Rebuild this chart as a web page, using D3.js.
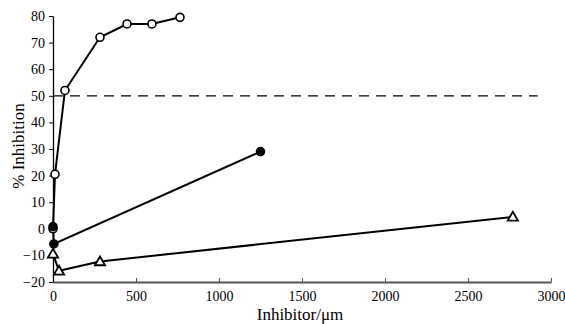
<!DOCTYPE html>
<html>
<head>
<meta charset="utf-8">
<script src="https://cdn.jsdelivr.net/npm/d3@7"></script>
<style>
  body { margin: 0; background: #fff; }
</style>
</head>
<body>
<div id="chart"></div>
<script>
// data
const openX = [0, 12, 72, 283, 446, 596, 765];
const openY = [0, 20.5, 52, 72, 77, 77, 79.5];
const filledX = [0, 5, 1250];
const filledY = [0.8, -5.7, 29];
const triX = [0, 36, 283, 2770];
const triY = [-9.4, -15.8, -12.3, 4.5];
const xTicks = [0, 500, 1000, 1500, 2000, 2500, 3000];
const yTicks = [-20, -10, 0, 10, 20, 30, 40, 50, 60, 70, 80];
const threshold = 50;

const serif = "'Liberation Serif', 'Times New Roman', 'DejaVu Serif', serif";
const width = 565, height = 324;
const margin = { left: 53, right: 14, top: 16, bottom: 42 };

const svg = d3.select("#chart").append("svg")
  .attr("width", width)
  .attr("height", height)
  .style("font-family", serif);

const x = d3.scaleLinear().domain([0, 3000]).range([margin.left, width - margin.right]);
const y = d3.scaleLinear().domain([-20, 80]).range([height - margin.bottom, margin.top]);

// x axis (ticks inward)
const gx = svg.append("g")
  .attr("transform", "translate(0," + y(-20) + ")")
  .call(d3.axisBottom(x).tickValues(xTicks).tickFormat(d3.format("d"))
    .tickSize(-4).tickPadding(9).tickSizeOuter(0));
gx.attr("font-family", serif);
gx.select(".domain").attr("stroke", "#555").attr("stroke-width", 2);
gx.selectAll(".tick line").attr("stroke", "#555");
gx.selectAll("text").attr("font-size", 14).attr("fill", "#000").style("font-family", serif);

// y axis
const gy = svg.append("g")
  .attr("transform", "translate(" + x(0) + ",0)")
  .call(d3.axisLeft(y).tickValues(yTicks).tickSize(4).tickPadding(4).tickSizeOuter(0));
gy.attr("font-family", serif);
gy.select(".domain").attr("stroke", "#000").attr("stroke-width", 1.3);
gy.selectAll("text").attr("font-size", 14).attr("fill", "#000").style("font-family", serif);

// 50% line
svg.append("line")
  .attr("x1", x(0)).attr("x2", x(2920))
  .attr("y1", y(threshold)).attr("y2", y(threshold))
  .attr("stroke", "#000").attr("stroke-width", 1.2)
  .attr("stroke-dasharray", "10,7");

const line = d3.line().x(d => x(d[0])).y(d => y(d[1]));
const series = [
  { xs: openX, ys: openY, type: "open" },
  { xs: filledX, ys: filledY, type: "filled" },
  { xs: triX, ys: triY, type: "tri" }
];

series.forEach(s => {
  const pts = s.xs.map((v, i) => [v, s.ys[i]]);
  svg.append("path")
    .datum(pts)
    .attr("d", line)
    .attr("fill", "none")
    .attr("stroke", "#000")
    .attr("stroke-width", 2);
});

// markers
series.forEach(s => {
  const pts = s.xs.map((v, i) => [v, s.ys[i]]);
  if (s.type === "tri") {
    const sym = d3.symbol().type(d3.symbolTriangle).size(45);
    svg.selectAll(null).data(pts).enter().append("path")
      .attr("d", sym)
      .attr("transform", d => "translate(" + x(d[0]) + "," + (y(d[1]) + 0.8) + ")")
      .attr("fill", "#fff").attr("stroke", "#000").attr("stroke-width", 1.8);
  } else {
    svg.selectAll(null).data(pts).enter().append("circle")
      .attr("cx", d => x(d[0]))
      .attr("cy", d => y(d[1]))
      .attr("r", 4)
      .attr("fill", s.type === "open" ? "#fff" : "#000")
      .attr("stroke", "#000").attr("stroke-width", 1.6);
  }
});

// axis titles
svg.append("text")
  .attr("x", 300).attr("y", 320)
  .attr("text-anchor", "middle")
  .attr("font-size", 17)
  .style("font-family", serif)
  .text("Inhibitor/μm");

svg.append("text")
  .attr("transform", "translate(24,146) rotate(-90)")
  .attr("text-anchor", "middle")
  .attr("font-size", 17)
  .style("font-family", serif)
  .text("% Inhibition");
</script>
</body>
</html>
